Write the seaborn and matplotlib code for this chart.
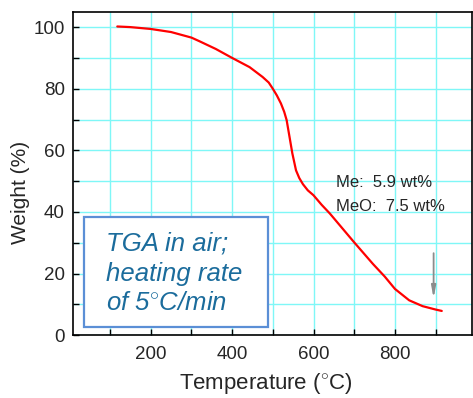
import matplotlib
matplotlib.use("Agg")
import matplotlib.pyplot as plt
import seaborn as sns
import pandas as pd
from matplotlib.patches import Rectangle
from matplotlib.ticker import MultipleLocator, FixedLocator

# TGA curve
temperatura = [118, 150, 200, 250, 300, 320, 360, 400, 443, 475, 490, 500, 510, 520,
               528, 534, 541, 548, 557, 565, 574, 586, 600, 620, 640, 670, 700, 746,
               775, 800, 835, 868, 900, 915]
peso = [100.2, 100.0, 99.4, 98.4, 96.6, 95.4, 92.9, 90.0, 87.0, 83.8, 82.0, 80.0,
        77.8, 75.2, 72.5, 69.8, 64.4, 59.0, 53.5, 51.0, 49.0, 47.0, 45.4, 42.3, 39.5,
        34.8, 30.1, 23.1, 19.0, 15.0, 11.3, 9.4, 8.3, 7.85]

x_ticks = [200, 400, 600, 800]
y_ticks = [0, 20, 40, 60, 80, 100]
anotaciones = ["Me:  5.9 wt%", "MeO:  7.5 wt%"]
caja_texto = "TGA in air;\nheating rate\nof 5$^{\\circ}$C/min"

df = pd.DataFrame({"T": temperatura, "W": peso})

sns.set_style("ticks")
plt.rcParams["font.family"] = ["Liberation Sans", "DejaVu Sans"]
plt.rcParams["mathtext.fontset"] = "custom"
plt.rcParams["mathtext.rm"] = "Liberation Sans"
plt.rcParams["mathtext.it"] = "Liberation Sans:italic"

fig = plt.figure(figsize=(4.73, 3.98), dpi=100)
ax = fig.add_axes([0.155, 0.158, 0.8435, 0.8126])

sns.lineplot(data=df, x="T", y="W", color="red", linewidth=1.6, ax=ax, zorder=3)

ax.set_xlim(10, 990)
ax.set_ylim(0, 105)
ax.xaxis.set_major_locator(FixedLocator(x_ticks))
ax.xaxis.set_minor_locator(MultipleLocator(100))
ax.yaxis.set_major_locator(FixedLocator(y_ticks))
ax.yaxis.set_minor_locator(MultipleLocator(10))
ax.grid(which="both", color="#7ff7f7", linewidth=1.0, zorder=0)
ax.set_axisbelow(True)
ax.tick_params(which="both", direction="in", length=4, width=1, color="black",
               top=False, right=False)
ax.tick_params(axis="both", labelsize=13.5)
ax.tick_params(axis="x", pad=8)
ax.tick_params(axis="y", pad=6)
for s in ax.spines.values():
    s.set_color("black")
    s.set_linewidth(1.2)

ax.set_xlabel("Temperature ($^{\\circ}$C)", fontsize=16)
ax.set_ylabel("Weight (%)", fontsize=15)
ax.xaxis.set_label_coords(0.483, -0.112)
ax.yaxis.set_label_coords(-0.108, 0.442)

ax.text(655, 49.7, anotaciones[0], fontsize=12, va="center", ha="left", zorder=4)
ax.text(655, 41.6, anotaciones[1], fontsize=12, va="center", ha="left", zorder=4,
        clip_on=False)

ax.annotate("", xy=(895, 11.0), xytext=(895, 27.5),
            arrowprops=dict(arrowstyle="-|>,head_length=0.7,head_width=0.13",
                            color="#8c8c8c", lw=1.3), zorder=4)

ax.add_patch(Rectangle((0.027, 0.026), 0.46, 0.34, transform=ax.transAxes,
                       facecolor="white", edgecolor="#5b8fd6", linewidth=1.6,
                       zorder=5))
ax.text(0.082, 0.19, caja_texto, transform=ax.transAxes, fontsize=18.5,
        style="italic", color="#1b6c9c", va="center", ha="left",
        linespacing=1.3, zorder=6)

fig.savefig("out.png", dpi=100)
